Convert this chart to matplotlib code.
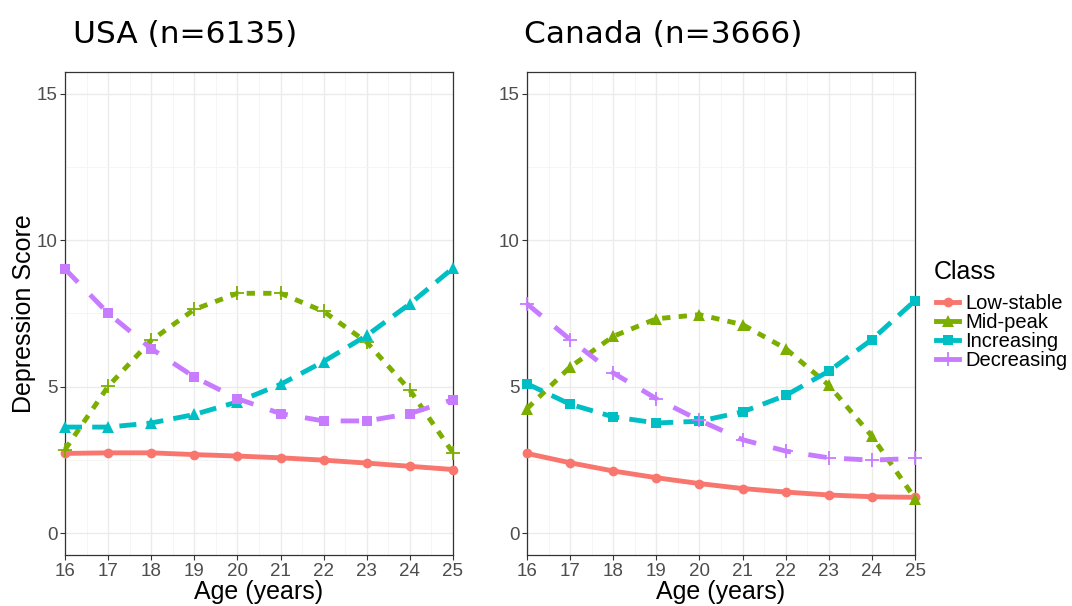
import numpy as np
import matplotlib
matplotlib.use("Agg")
import matplotlib.pyplot as plt
from matplotlib.lines import Line2D
from matplotlib.ticker import MultipleLocator

plt.rcParams['font.family'] = ['Liberation Sans', 'DejaVu Sans']

ages = np.arange(16, 26)
classes = ['Low-stable', 'Mid-peak', 'Increasing', 'Decreasing']
colors = ['#F8766D', '#7CAE00', '#00BFC4', '#C77CFF']

# USA (n=6135)
usa_low = [2.72, 2.74, 2.74, 2.68, 2.63, 2.57, 2.49, 2.39, 2.28, 2.17]
usa_mid = [2.85, 5.01, 6.58, 7.64, 8.19, 8.19, 7.57, 6.52, 4.88, 2.74]
usa_inc = [3.62, 3.62, 3.76, 4.05, 4.48, 5.08, 5.86, 6.75, 7.83, 9.05]
usa_dec = [9.02, 7.51, 6.30, 5.33, 4.59, 4.08, 3.83, 3.83, 4.08, 4.56]

# Canada (n=3666)
can_low = [2.72, 2.40, 2.12, 1.89, 1.69, 1.52, 1.40, 1.30, 1.24, 1.22]
can_mid = [4.25, 5.67, 6.72, 7.32, 7.46, 7.12, 6.30, 5.05, 3.31, 1.18]
can_inc = [5.10, 4.40, 3.97, 3.76, 3.82, 4.14, 4.70, 5.53, 6.61, 7.94]
can_dec = [7.83, 6.61, 5.47, 4.59, 3.85, 3.19, 2.80, 2.57, 2.49, 2.55]

LW = 3.5
linestyles = ['-', (0, (1.7, 1.7)), (0, (3.5, 2.1)), (0, (3.8, 3.6))]
usa_markers = ['o', '+', '^', 's']
can_markers = ['o', '^', 's', '+']


def msize(m):
    return {'o': 7, '^': 8, 's': 7, '+': 10}[m]


fig = plt.figure(figsize=(10.72, 6.06), dpi=100)
W, H = 1072, 606
ax1 = fig.add_axes([65 / W, 1 - 555 / H, 388 / W, 483 / H])
ax2 = fig.add_axes([527 / W, 1 - 555 / H, 388 / W, 483 / H])

panels = [
    (ax1, 'USA (n=6135)', [usa_low, usa_mid, usa_inc, usa_dec], usa_markers, 8),
    (ax2, 'Canada (n=3666)', [can_low, can_mid, can_inc, can_dec], can_markers, -3),
]

for ax, title, series, markers, tx in panels:
    for vals, col, ls, mk in zip(series, colors, linestyles, markers):
        ax.plot(ages, vals, color=col, linestyle=ls, linewidth=LW,
                marker=mk, markersize=msize(mk),
                markeredgewidth=1.3 if mk == '+' else 0,
                dash_capstyle='butt', clip_on=False, zorder=3)
    ax.set_xlim(16, 25)
    ax.set_ylim(-0.75, 15.75)
    ax.set_xticks(ages)
    ax.set_yticks([0, 5, 10, 15])
    ax.xaxis.set_minor_locator(MultipleLocator(0.5))
    ax.yaxis.set_minor_locator(MultipleLocator(2.5))
    ax.grid(which='major', color='#EBEBEB', linewidth=1.0, zorder=0)
    ax.grid(which='minor', color='#F4F4F4', linewidth=0.6, zorder=0)
    ax.tick_params(which='minor', length=0)
    ax.tick_params(which='major', length=3.5, color='#333333', labelsize=13.5,
                   labelcolor='#4D4D4D', width=0.8, pad=2)
    for sp in ax.spines.values():
        sp.set_color('#333333')
        sp.set_linewidth(0.9)
    ax.set_axisbelow(True)
    ax.set_xlabel('Age (years)', fontsize=18, labelpad=0)
    ax.text(tx / 388, 1 + 29 / 483, title, transform=ax.transAxes,
            fontsize=22.5, family='DejaVu Sans', ha='left', va='baseline')

ax1.set_ylabel('Depression Score', fontsize=18, labelpad=0)

leg_markers = ['o', '^', 's', '+']
handles = [Line2D([0], [0], color=c, linewidth=LW, marker=m,
                  markersize=msize(m),
                  markeredgewidth=1.3 if m == '+' else 0)
           for c, m in zip(colors, leg_markers)]
fig.text(934 / W, 1 - 279 / H, 'Class', fontsize=18, ha='left', va='baseline')
fig.legend(handles, classes, loc='upper left',
           bbox_to_anchor=(936 / W, 1 - 294 / H), frameon=False,
           fontsize=14.5, handlelength=1.15,
           handletextpad=0.3, labelspacing=0.0, borderaxespad=0,
           borderpad=0)

fig.savefig('out.png', dpi=100)
